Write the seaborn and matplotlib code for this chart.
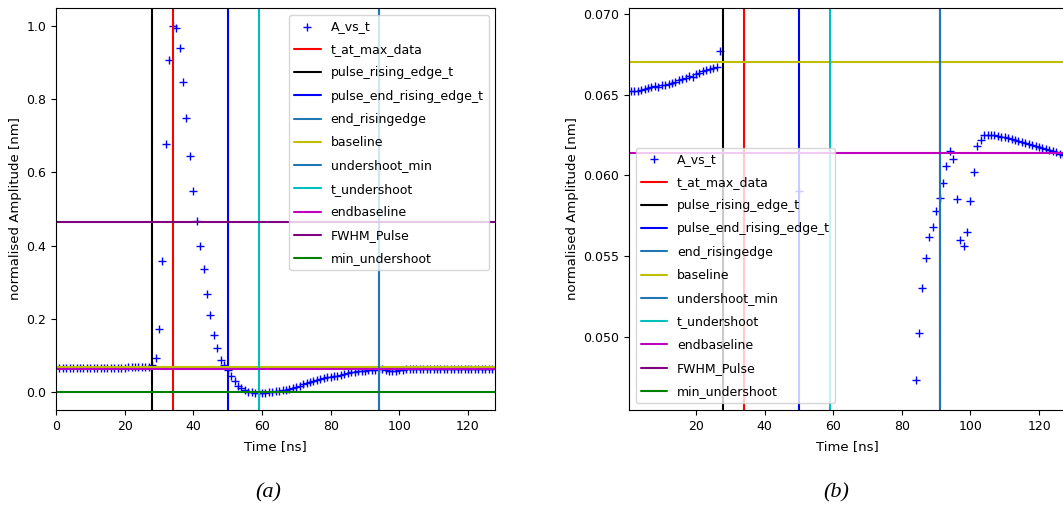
import numpy as np
import pandas as pd
import matplotlib
matplotlib.use("Agg")
import matplotlib.pyplot as plt
import seaborn as sns

# ---------------- data ----------------
time_ns = list(range(1, 128))
amplitude = [
    # 1..26 baseline
    0.06525, 0.06522, 0.06520, 0.06530, 0.06535, 0.06540, 0.06548, 0.06555, 0.06550, 0.06560,
    0.06560, 0.06567, 0.06575, 0.06578, 0.06590, 0.06598, 0.06606, 0.06615, 0.06612, 0.06628,
    0.06636, 0.06644, 0.06652, 0.06660, 0.06665, 0.06672,
    # 27..28
    0.0677, 0.0725,
    # 29..55 pulse
    0.091, 0.172, 0.357, 0.677, 0.907, 1.000, 0.995, 0.940, 0.848, 0.748,
    0.644, 0.548, 0.468, 0.400, 0.337, 0.268, 0.209, 0.155, 0.119, 0.088,
    0.073, 0.059, 0.043, 0.028, 0.017, 0.009, 0.004,
    # 56..83 undershoot and recovery
    0.000, -0.002, -0.003, -0.003, -0.003, -0.003, -0.002, -0.001, 0.001, 0.002,
    0.004, 0.006, 0.008, 0.011, 0.014, 0.017, 0.020, 0.023, 0.026, 0.029,
    0.032, 0.034, 0.037, 0.039, 0.041, 0.043, 0.044, 0.0452,
    # 84..103
    0.0473, 0.0502, 0.0530, 0.0549, 0.0562, 0.0568, 0.0578, 0.0586, 0.0595, 0.0606,
    0.0615, 0.0610, 0.0585, 0.0560, 0.0556, 0.0565, 0.0584, 0.0602, 0.0618, 0.0622,
    # 104..127 tail
    0.06250, 0.06252, 0.06250, 0.06248, 0.06245, 0.06240, 0.06235, 0.06230, 0.06222, 0.06218,
    0.06210, 0.06205, 0.06200, 0.06195, 0.06188, 0.06182, 0.06176, 0.06170, 0.06163, 0.06157,
    0.06150, 0.06142, 0.06135, 0.06125,
]

# marker lines: (label, kind, colour) and values per panel
line_labels = ["t_at_max_data", "pulse_rising_edge_t", "pulse_end_rising_edge_t",
               "end_risingedge", "baseline", "undershoot_min", "t_undershoot",
               "endbaseline", "FWHM_Pulse", "min_undershoot"]
line_kinds = ["v", "v", "v", "v", "h", "v", "v", "h", "h", "h"]
line_colors = ["r", "k", "b", "C0", "y", "C0", "c", "m", "purple", "g"]
values_a = [34, 28, 50, 94, 0.067, 94, 59, 0.0614, 0.4635, 0.0]
values_b = [34, 28, 50, 91, 0.067, 91, 59, 0.0614, 0.4635, 0.0]

x_ticks = [0, 20, 40, 60, 80, 100, 120]

df = pd.DataFrame({"t": time_ns, "A": amplitude})

# ---------------- style ----------------
sns.set_style("ticks")
plt.rcParams.update({
    "font.family": ["DejaVu Sans"],
    "font.size": 9,
    "axes.edgecolor": "black",
    "axes.labelcolor": "black",
    "text.color": "black",
    "xtick.color": "black",
    "ytick.color": "black",
    "xtick.major.size": 3.5,
    "ytick.major.size": 3.5,
    "xtick.major.width": 0.8,
    "ytick.major.width": 0.8,
    "xtick.labelsize": 9,
    "ytick.labelsize": 9,
    "axes.labelsize": 9.5,
    "axes.linewidth": 0.8,
    "legend.frameon": True,
    "legend.framealpha": 0.8,
    "legend.edgecolor": "0.8",
    "legend.fancybox": True,
})

fig = plt.figure(figsize=(10.63, 5.11), dpi=100)
ax_a = fig.add_axes([56 / 1063, 1 - 410 / 511, 439.4 / 1063, 402 / 511])
ax_b = fig.add_axes([628.8 / 1063, 1 - 410 / 511, 437.7 / 1063, 402 / 511])


def draw(ax, values, legend_loc):
    sns.scatterplot(data=df, x="t", y="A", marker="+", color="blue", s=40,
                    linewidth=1.0, label="A_vs_t", ax=ax, zorder=1)
    for lab, kind, col, val in zip(line_labels, line_kinds, line_colors, values):
        if kind == "v":
            ax.axvline(val, color=col, lw=1.5, label=lab)
        else:
            ax.axhline(val, color=col, lw=1.5, label=lab)
    ax.set_xlabel("Time [ns]", labelpad=5)
    ax.set_ylabel("normalised Amplitude [nm]", labelpad=3)
    ax.set_xticks(x_ticks)
    ax.legend(loc=legend_loc, fontsize=9, labelspacing=0.82,
              borderaxespad=0.55, handlelength=2.1)


draw(ax_a, values_a, "upper right")
ax_a.set_xlim(0, 128)
ax_a.set_ylim(-0.05, 1.05)
ax_a.set_yticks([0.0, 0.2, 0.4, 0.6, 0.8, 1.0])

draw(ax_b, values_b, "lower left")
ax_b.set_xlim(0.4, 128)
ax_b.set_ylim(0.04545, 0.07037)
ax_b.set_yticks([0.050, 0.055, 0.060, 0.065, 0.070])
ax_b.yaxis.set_major_formatter(matplotlib.ticker.FormatStrFormatter("%.3f"))

fig.text(268 / 1063, 1 - 493 / 511, "(a)", ha="center", va="center",
         fontsize=16, fontstyle="italic", family=["Liberation Serif"])
fig.text(836 / 1063, 1 - 493 / 511, "(b)", ha="center", va="center",
         fontsize=16, fontstyle="italic", family=["Liberation Serif"])

fig.savefig("out.png", dpi=100)
